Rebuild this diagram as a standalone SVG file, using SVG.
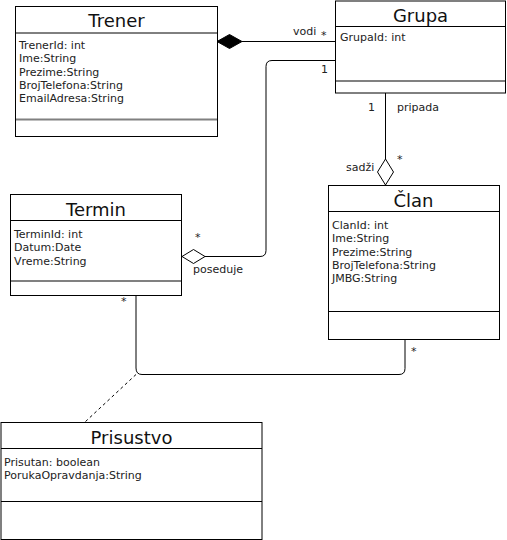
<svg xmlns="http://www.w3.org/2000/svg" width="507" height="540" viewBox="0 0 507 540">
<style>
.box{fill:#fff;stroke:#000;stroke-width:1}
.div{stroke:#000;stroke-width:1}
.sep{stroke:#808080;stroke-width:2}
.title{font-family:"DejaVu Sans",Verdana,sans-serif;font-size:18px;fill:#111;text-anchor:middle}
.attr{font-family:"DejaVu Sans",Verdana,sans-serif;font-size:11px;fill:#222}
.lbl{font-family:"DejaVu Sans",Verdana,sans-serif;font-size:11px;fill:#222}
.line{fill:none;stroke:#000;stroke-width:1}
</style>
<rect width="507" height="540" fill="#fff"/>
<g id="connectors">
  <path class="line" d="M242 41.5 H335"/>
  <polygon points="217,41.5 229.5,34.5 242,41.5 229.5,48.5" fill="#000" stroke="#000"/>
  <path class="line" d="M335 60.5 H272 Q266 60.5 266 66.5 V250.5 Q266 256.5 260 256.5 H205"/>
  <polygon points="182,256.5 193.5,249.5 205,256.5 193.5,263.5" fill="#fff" stroke="#000"/>
  <path class="line" d="M385.5 93 V159"/>
  <polygon points="385.5,159 393.5,172 385.5,185 377.5,172" fill="#fff" stroke="#000"/>
  <path class="line" d="M136 295 V368 Q136 374.5 142 374.5 H399 Q405 374.5 405 368.5 V339"/>
  <path class="line" d="M136 374.5 L85 422" stroke-dasharray="3,3"/>
  <text class="lbl" x="293" y="35">vodi</text>
  <text class="lbl" x="321" y="39">*</text>
  <text class="lbl" x="321" y="73">1</text>
  <text class="lbl" x="368" y="111">1</text>
  <text class="lbl" x="397" y="111">pripada</text>
  <text class="lbl" x="346" y="171">sadži</text>
  <text class="lbl" x="397" y="163">*</text>
  <text class="lbl" x="195" y="241">*</text>
  <text class="lbl" x="193" y="273">poseduje</text>
  <text class="lbl" x="121" y="305">*</text>
  <text class="lbl" x="411" y="355">*</text>
</g>
<g id="trener">
  <rect class="box" x="15.5" y="6.5" width="202" height="130"/>
  <line class="div" x1="15.5" y1="33" x2="217.5" y2="33"/>
  <line class="sep" x1="16" y1="119.5" x2="217" y2="119.5"/>
  <text class="title" x="116.5" y="27">Trener</text>
  <text class="attr" x="19" y="49">TrenerId: int</text>
  <text class="attr" x="19" y="62">Ime:String</text>
  <text class="attr" x="19" y="76">Prezime:String</text>
  <text class="attr" x="19" y="89">BrojTelefona:String</text>
  <text class="attr" x="19" y="102">EmailAdresa:String</text>
</g>
<g id="grupa">
  <rect class="box" x="335.5" y="1" width="170" height="92"/>
  <line class="div" x1="335.5" y1="26.5" x2="505.5" y2="26.5"/>
  <line class="sep" x1="336" y1="81" x2="505" y2="81"/>
  <text class="title" x="420.5" y="22">Grupa</text>
  <text class="attr" x="340" y="41">GrupaId: int</text>
</g>
<g id="clan">
  <rect class="box" x="328.5" y="185.5" width="171" height="154"/>
  <line class="div" x1="328.5" y1="211.5" x2="499.5" y2="211.5"/>
  <line class="div" x1="328.5" y1="311.5" x2="499.5" y2="311.5"/>
  <text class="title" x="413.5" y="207">Član</text>
  <text class="attr" x="332" y="229">ClanId: int</text>
  <text class="attr" x="332" y="242">Ime:String</text>
  <text class="attr" x="332" y="256">Prezime:String</text>
  <text class="attr" x="332" y="269">BrojTelefona:String</text>
  <text class="attr" x="332" y="282">JMBG:String</text>
</g>
<g id="termin">
  <rect class="box" x="10.5" y="194.5" width="171" height="101"/>
  <line class="div" x1="10.5" y1="220.5" x2="181.5" y2="220.5"/>
  <line class="sep" x1="11" y1="281" x2="181" y2="281"/>
  <text class="title" x="96" y="216">Termin</text>
  <text class="attr" x="14" y="238">TerminId: int</text>
  <text class="attr" x="14" y="251">Datum:Date</text>
  <text class="attr" x="14" y="265">Vreme:String</text>
</g>
<g id="prisustvo">
  <rect class="box" x="1" y="422.5" width="261" height="117"/>
  <line class="div" x1="1" y1="448.5" x2="262" y2="448.5"/>
  <line class="div" x1="1" y1="501.5" x2="262" y2="501.5"/>
  <text class="title" x="131.5" y="444">Prisustvo</text>
  <text class="attr" x="4" y="466">Prisutan: boolean</text>
  <text class="attr" x="4" y="479">PorukaOpravdanja:String</text>
</g>
</svg>
